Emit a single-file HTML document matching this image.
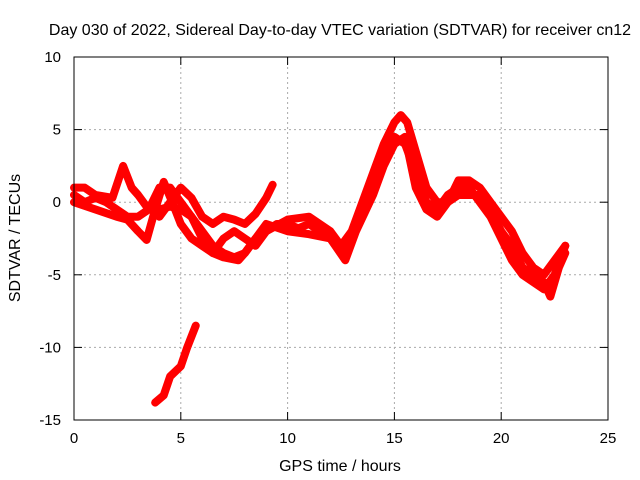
<!DOCTYPE html>
<html><head><meta charset="utf-8"><style>
body{margin:0;background:#fff;}
svg{display:block;font-family:"Liberation Sans",sans-serif;}
</style></head><body>
<svg id="chart" width="640" height="480">
<text x="340" y="35" text-anchor="middle" font-size="16">Day 030 of 2022, Sidereal Day-to-day VTEC variation (SDTVAR) for receiver cn12</text>
<text x="340" y="471" text-anchor="middle" font-size="16">GPS time / hours</text>
<text transform="translate(20,238) rotate(-90)" text-anchor="middle" font-size="16">SDTVAR / TECUs</text>
<g id="grid"></g><g id="ticks"></g><g id="series"></g>
<rect x="74" y="57" width="534" height="363" fill="none" stroke="#000" stroke-width="1"/>
</svg>
<script>
const xTicks=[0,5,10,15,20,25];
const yTicks=[10,5,0,-5,-10,-15];
const trackA=[[0,0.5],[0.5,0],[1,0.3],[1.5,0],[2,-0.5],[2.5,-1],[3,-1],[3.5,-0.5],[4,-0.5],[4.5,-0.3],[5,-0.5],[5.5,-1],[6,-2],[6.5,-3],[7,-3.5],[7.5,-3.8],[8,-3.5],[8.5,-2.5],[9,-2],[9.5,-1.5],[10,-1.5],[10.5,-1.8],[11,-1.5],[11.5,-2],[12,-2.5],[12.5,-3.5],[13,-2.5],[13.5,-1],[14,1],[14.5,3],[15,4.5],[15.5,4],[16,2],[16.5,0],[17,-0.5],[17.5,0.5],[18,1],[18.5,1],[19,0],[19.5,-1],[20,-2.5],[20.5,-4],[21,-5],[21.5,-5.5],[22,-6],[22.5,-5],[23,-3]];
const trackB=[[0,1],[0.5,1],[1,0.5],[1.8,0.3],[2.3,2.5],[2.7,1],[3,0.5],[3.5,-0.5],[4,1],[4.5,1],[5,0],[5.5,-1],[6,-2.5],[6.5,-3.5],[7,-2.5],[7.5,-2],[8,-2.5],[8.5,-3],[9,-2],[10,-1.2],[11,-1],[12,-2],[12.5,-3],[13,-2],[13.5,0],[14,2],[14.5,4],[15,5.5],[15.3,6],[15.6,5.5],[16,3.5],[16.5,1],[17,0],[17.5,0],[18,1.5],[18.5,1.5],[19,1],[19.5,0],[20,-1],[20.5,-2],[21,-3.5],[21.5,-4.5],[22,-5],[22.5,-4],[23,-3]];
const trackC=[[4,-1],[4.5,0],[5,1],[5.5,0.3],[6,-1],[6.5,-1.5],[7,-1],[7.5,-1.2],[8,-1.5],[8.5,-0.8],[9,0.3],[9.3,1.2]];
const trackD=[[3.8,-13.8],[4.2,-13.3],[4.5,-12],[5,-11.3],[5.3,-10],[5.7,-8.5]];
const trackE=[[0,0],[1,-0.5],[2,-1],[2.5,-1.2],[3,-2],[3.4,-2.6],[3.8,-0.5],[4.2,1.4],[4.6,0],[5,-1.5],[5.5,-2.5],[6,-3],[6.5,-3.5],[7,-3.8],[7.7,-4],[8,-3.5],[9,-1.5],[10,-2],[11,-2.2],[12,-2.5],[12.7,-4],[13.2,-2],[14,0.5],[14.5,2.5],[15,4],[15.5,4.5],[16,1],[16.5,-0.5],[17,-1],[17.5,0],[18,0.5],[19,0.5],[19.5,-0.5],[20,-2],[20.5,-3],[21,-4.5],[21.5,-5],[22,-5.5],[22.3,-6.5],[22.7,-4.5],[23,-3.5]];
const tracks=[trackA,trackB,trackC,trackD,trackE];
const X=v=>74+v*534/25, Y=v=>57+(10-v)*363/25;
const ns="http://www.w3.org/2000/svg";
const grid=document.getElementById('grid'),ticks=document.getElementById('ticks'),ser=document.getElementById('series');
function mk(tag,a,p){const e=document.createElementNS(ns,tag);for(const k in a)e.setAttribute(k,a[k]);p.appendChild(e);return e;}
xTicks.forEach(t=>{const x=X(t);
 if(t>0&&t<25){const g=mk('line',{x1:x,x2:x,y1:57,y2:420,stroke:'#aaa','stroke-dasharray':'2,3'},grid);
 
 }
 mk('line',{x1:x,x2:x,y1:420,y2:412,stroke:'#000'},ticks);mk('line',{x1:x,x2:x,y1:57,y2:65,stroke:'#000'},ticks);
 const l=mk('text',{x:x,y:443,'text-anchor':'middle','font-size':15},ticks);l.textContent=t;
 
 });
yTicks.forEach(t=>{const y=Y(t);
 if(t<10&&t>-15){const g=mk('line',{x1:74,x2:608,y1:y,y2:y,stroke:'#aaa','stroke-dasharray':'2,3'},grid);
 
 }
 mk('line',{x1:74,x2:82,y1:y,y2:y,stroke:'#000'},ticks);mk('line',{x1:608,x2:600,y1:y,y2:y,stroke:'#000'},ticks);
 const l=mk('text',{x:61,y:y+5,'text-anchor':'end','font-size':15},ticks);l.textContent=t;
 
 });
tracks.forEach((tr,i)=>{const p=mk('polyline',{points:tr.map(d=>X(d[0])+','+Y(d[1])).join(' '),fill:'none',stroke:'#f00','stroke-width':8,'stroke-linejoin':'round','stroke-linecap':'round'},ser);
 
 });
</script>
</body></html>
